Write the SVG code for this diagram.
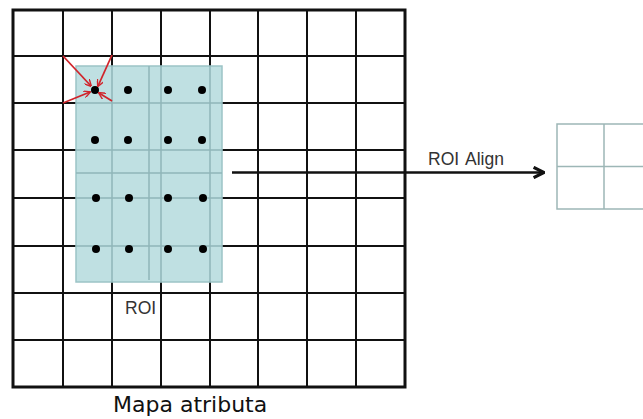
<svg xmlns="http://www.w3.org/2000/svg" width="643" height="419" viewBox="0 0 643 419">
  <style>
    .grid { stroke: #111; stroke-width: 2; fill: none; }
    .frame { stroke: #111; stroke-width: 3; fill: none; }
    .roi { fill: #bfe0e2; stroke: #9cc4c6; stroke-width: 1.5; }
    .roiline { stroke: #8fb6b8; stroke-width: 1.5; }
    .dot { fill: #000; }
    .sample { stroke: #d0242b; stroke-width: 1.8; fill: none; marker-end: url(#redHead); }
    .label { font-family: "Liberation Sans", Arial, sans-serif; font-size: 17.5px; fill: #333; }
    .caption { font-family: "DejaVu Sans", sans-serif; font-size: 22px; fill: #111; }
    .out { stroke: #9db6b6; stroke-width: 1.5; fill: none; }
  </style>
  <defs>
    <marker id="redHead" viewBox="0 0 10 10" refX="9" refY="5" markerWidth="7" markerHeight="7" markerUnits="userSpaceOnUse" orient="auto">
      <path d="M0,0 L10,5 L0,10" fill="none" stroke="#d0242b" stroke-width="2"/>
    </marker>
    <marker id="blackHead" viewBox="0 0 10 10" refX="9" refY="5" markerWidth="13" markerHeight="13" markerUnits="userSpaceOnUse" orient="auto">
      <path d="M1,1 L9,5 L1,9" fill="none" stroke="#111" stroke-width="2.4"/>
    </marker>
  </defs>

  <!-- feature map grid 8x8 -->
  <g id="feature-map">
    <g class="grid">
      <line x1="63" y1="10" x2="63" y2="387"/>
      <line x1="112" y1="10" x2="112" y2="387"/>
      <line x1="161" y1="10" x2="161" y2="387"/>
      <line x1="210" y1="10" x2="210" y2="387"/>
      <line x1="258" y1="10" x2="258" y2="387"/>
      <line x1="307" y1="10" x2="307" y2="387"/>
      <line x1="356" y1="10" x2="356" y2="387"/>
      <line x1="13" y1="56" x2="405" y2="56"/>
      <line x1="13" y1="103" x2="405" y2="103"/>
      <line x1="13" y1="150" x2="405" y2="150"/>
      <line x1="13" y1="198" x2="405" y2="198"/>
      <line x1="13" y1="246" x2="405" y2="246"/>
      <line x1="13" y1="293" x2="405" y2="293"/>
      <line x1="13" y1="340" x2="405" y2="340"/>
    </g>
    <rect class="frame" x="13" y="10" width="392" height="377"/>
  </g>

  <!-- region of interest with 2x2 bins and sampling points -->
  <g id="roi">
    <rect class="roi" x="76" y="66" width="146" height="216"/>
    <g class="roiline">
      <line x1="112" y1="66" x2="112" y2="282"/>
      <line x1="161" y1="66" x2="161" y2="282"/>
      <line x1="210" y1="66" x2="210" y2="282"/>
      <line x1="76" y1="103" x2="222" y2="103"/>
      <line x1="76" y1="150" x2="222" y2="150"/>
      <line x1="76" y1="198" x2="222" y2="198"/>
      <line x1="76" y1="246" x2="222" y2="246"/>
      <line x1="149" y1="66" x2="149" y2="280"/>
      <line x1="76" y1="173" x2="222" y2="173"/>
    </g>
    <g class="dot">
      <circle cx="95" cy="90" r="4"/>
      <circle cx="128" cy="90" r="4"/>
      <circle cx="168" cy="90" r="4"/>
      <circle cx="202" cy="90" r="4"/>
      <circle cx="95" cy="140" r="4"/>
      <circle cx="128" cy="140" r="4"/>
      <circle cx="168" cy="140" r="4"/>
      <circle cx="202" cy="140" r="4"/>
      <circle cx="96" cy="198" r="4"/>
      <circle cx="129" cy="198" r="4"/>
      <circle cx="168" cy="198" r="4"/>
      <circle cx="203" cy="198" r="4"/>
      <circle cx="96" cy="249" r="4"/>
      <circle cx="129" cy="249" r="4"/>
      <circle cx="168" cy="249" r="4"/>
      <circle cx="203" cy="249" r="4"/>
    </g>
    <text class="label" x="125" y="314">ROI</text>
  </g>

  <!-- pooled 2x2 output -->
  <g id="output">
    <rect class="out" x="557" y="124" width="100" height="85"/>
    <line class="out" x1="604" y1="124" x2="604" y2="209"/>
    <line class="out" x1="557" y1="166.5" x2="657" y2="166.5"/>
  </g>

  <text class="caption" x="113" y="412">Mapa atributa</text>

  <g id="connectors">
    <!-- bilinear interpolation from neighbouring grid points -->
    <line class="sample" x1="63" y1="56" x2="91" y2="86"/>
    <line class="sample" x1="112" y1="55" x2="98" y2="86"/>
    <line class="sample" x1="63" y1="103" x2="90" y2="92"/>
    <line class="sample" x1="112" y1="101" x2="99" y2="93"/>
    <!-- ROI Align step -->
    <line x1="232" y1="172.5" x2="544" y2="172.5" stroke="#111" stroke-width="2.5" marker-end="url(#blackHead)"/>
    <text class="label" x="428" y="165">ROI<tspan x="465">Align</tspan></text>
  </g>
</svg>
